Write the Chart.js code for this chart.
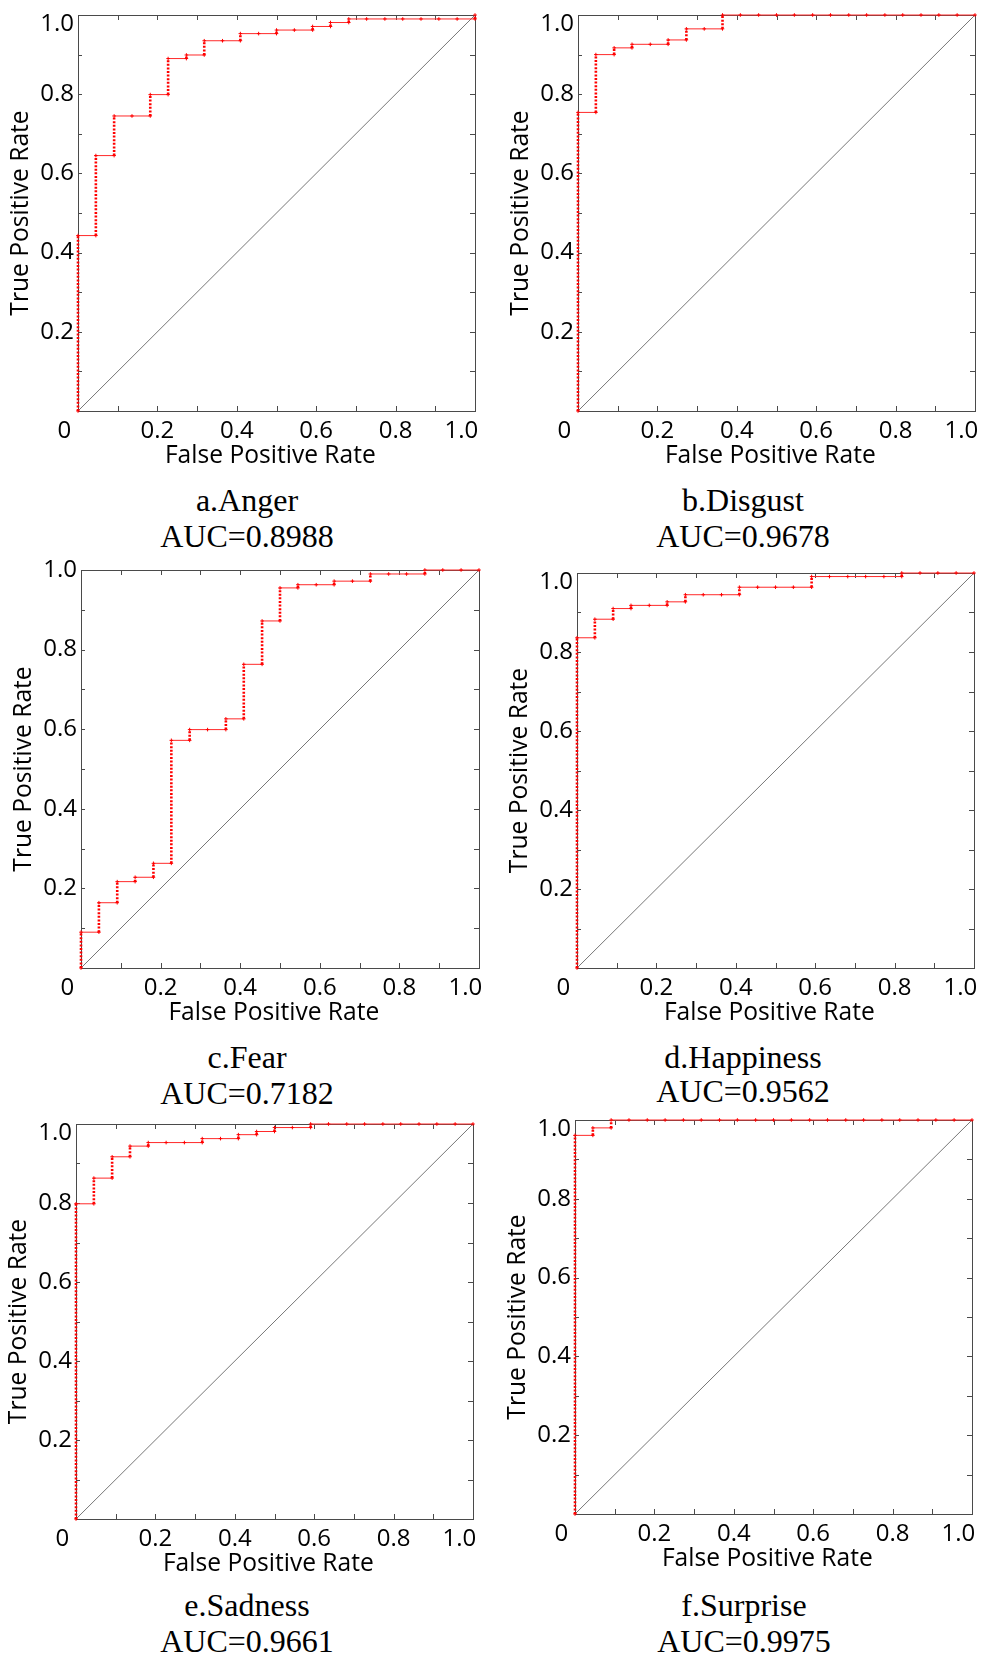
<!DOCTYPE html>
<html>
<head>
<meta charset="utf-8">
<script src="https://cdn.jsdelivr.net/npm/chart.js@4.4.1/dist/chart.umd.min.js"></script>
<style>
html,body{margin:0;padding:0;background:#fff;width:986px;height:1662px;overflow:hidden;}
#wrap{position:relative;width:986px;height:1662px;background:#fff;}
canvas{position:absolute;}
.cap{position:absolute;width:340px;text-align:center;font-family:"Liberation Serif","Times New Roman",serif;font-size:32px;line-height:36px;color:#000;white-space:nowrap;}
</style>
</head>
<body>
<div id="wrap"></div>
<script>
// ---------- data ----------
// False positive rate grid (22 negatives -> steps of ~0.045)
const fprGrid = [0, 0.045, 0.091, 0.136, 0.182, 0.227, 0.273, 0.318, 0.364, 0.409, 0.455, 0.5,
                 0.545, 0.591, 0.636, 0.682, 0.727, 0.773, 0.818, 0.864, 0.909, 0.955, 1.0];

// True positive rate reached at each FPR value above
const angerTpr     = [0.443, 0.645, 0.745, 0.745, 0.799, 0.890, 0.899, 0.935, 0.935, 0.953, 0.953, 0.962,
                      0.962, 0.971, 0.981, 0.990, 0.990, 0.990, 0.990, 0.990, 0.990, 0.990, 1.0];
const disgustTpr   = [0.754, 0.900, 0.917, 0.926, 0.926, 0.937, 0.965, 0.965, 1.0, 1.0, 1.0, 1.0,
                      1.0, 1.0, 1.0, 1.0, 1.0, 1.0, 1.0, 1.0, 1.0, 1.0, 1.0];
const fearTpr      = [0.090, 0.164, 0.217, 0.228, 0.263, 0.572, 0.599, 0.599, 0.626, 0.763, 0.872, 0.955,
                      0.963, 0.963, 0.972, 0.972, 0.990, 0.990, 0.990, 1.0, 1.0, 1.0, 1.0];
const happinessTpr = [0.836, 0.883, 0.910, 0.918, 0.918, 0.927, 0.945, 0.945, 0.945, 0.964, 0.964, 0.964,
                      0.964, 0.991, 0.991, 0.991, 0.991, 0.991, 1.0, 1.0, 1.0, 1.0, 1.0];
const sadnessTpr   = [0.798, 0.863, 0.917, 0.944, 0.953, 0.953, 0.953, 0.963, 0.963, 0.973, 0.981, 0.991,
                      0.991, 1.0, 1.0, 1.0, 1.0, 1.0, 1.0, 1.0, 1.0, 1.0, 1.0];
const surpriseTpr  = [0.961, 0.980, 1.0, 1.0, 1.0, 1.0, 1.0, 1.0, 1.0, 1.0, 1.0, 1.0,
                      1.0, 1.0, 1.0, 1.0, 1.0, 1.0, 1.0, 1.0, 1.0, 1.0, 1.0];

const chanceX = [0, 1];
const chanceY = [0, 1];

const panelNames = ["a.Anger", "b.Disgust", "c.Fear", "d.Happiness", "e.Sadness", "f.Surprise"];
const aucLabels  = ["AUC=0.8988", "AUC=0.9678", "AUC=0.7182", "AUC=0.9562", "AUC=0.9661", "AUC=0.9975"];
const xTickLabels = ["0", "0.2", "0.4", "0.6", "0.8", "1.0"];
const yTickLabels = ["", "0.2", "0.4", "0.6", "0.8", "1.0"];
const xAxisTitle = "False Positive Rate";
const yAxisTitle = "True Positive Rate";

const tprSeries = [angerTpr, disgustTpr, fearTpr, happinessTpr, sadnessTpr, surpriseTpr];

// ---------- layout (page pixels of each plot frame and captions) ----------
const frames = [
  {L: 78,  T: 13,   R: 475, B: 411,  cx: 247, c1: 500,  c2: 536,  lift: true},
  {L: 578, T: 13,   R: 975, B: 411,  cx: 743, c1: 500,  c2: 536,  lift: true},
  {L: 81,  T: 570,  R: 479, B: 968,  cx: 247, c1: 1057, c2: 1093, lift: false},
  {L: 577, T: 571,  R: 974, B: 968,  cx: 743, c1: 1057, c2: 1091, lift: true},
  {L: 76,  T: 1122, R: 473, B: 1519, cx: 247, c1: 1605, c2: 1641, lift: true},
  {L: 575, T: 1118, R: 972, B: 1514, cx: 744, c1: 1605, c2: 1641, lift: true}
];

const SANS = '"Open Sans", "DejaVu Sans", sans-serif';
Chart.defaults.font.family = SANS;
Chart.defaults.color = '#000';

// frame + inward tick marks, positioned through the scales
const framePlugin = {
  id: 'rocFrame',
  beforeDatasetsDraw(chart) {
    const {ctx, chartArea: a, scales: {x, y}} = chart;
    ctx.save();
    ctx.lineWidth = 1;
    ctx.strokeStyle = '#4a4a4a';
    ctx.strokeRect(a.left + 0.5, a.top + 0.5, a.right - a.left, a.bottom - a.top);
    ctx.beginPath();
    for (let i = 1; i < 10; i++) {
      const px = Math.round(x.getPixelForValue(i / 10)) + 0.5;
      const py = Math.round(y.getPixelForValue(i / 10)) + 0.5;
      ctx.moveTo(px, a.bottom); ctx.lineTo(px, a.bottom - 5);
      ctx.moveTo(px, a.top); ctx.lineTo(px, a.top + 5);
      ctx.moveTo(a.right, py); ctx.lineTo(a.right - 5, py);
      ctx.moveTo(a.left, py); ctx.lineTo(a.left + 4, py);
    }
    ctx.stroke();
    ctx.restore();
  }
};

function buildSteps(tpr) {
  const pts = [{x: fprGrid[0], y: 0}];
  for (let k = 0; k < fprGrid.length; k++) {
    const prev = k === 0 ? 0 : tpr[k - 1];
    if (k > 0) pts.push({x: fprGrid[k], y: prev});
    if (tpr[k] !== prev || k === 0) pts.push({x: fprGrid[k], y: tpr[k]});
  }
  return pts;
}

const wrap = document.getElementById('wrap');
const PADL = 78, PADT = 20, PADR = 40, XH = 60;

tprSeries.forEach((tpr, i) => {
  const f = frames[i];
  const w = (f.R - f.L) + PADL + PADR;
  const h = (f.B - f.T) + PADT + XH;
  const cv = document.createElement('canvas');
  cv.width = w; cv.height = h;
  cv.style.left = (f.L - PADL) + 'px';
  cv.style.top = (f.T - PADT) + 'px';
  cv.style.width = w + 'px';
  cv.style.height = h + 'px';
  wrap.appendChild(cv);

  const isVert = ctx => ctx.p0.parsed.x === ctx.p1.parsed.x;

  new Chart(cv, {
    type: 'scatter',
    data: {
      datasets: [
        {
          data: buildSteps(tpr),
          showLine: true,
          borderColor: '#ff2a2a',
          borderWidth: 1,
          pointStyle: 'cross',
          pointRadius: 1.8,
          pointBorderWidth: 1,
          pointBorderColor: '#ff0000',
          pointBackgroundColor: '#ff0000',
          clip: 8,
          segment: {
            borderWidth: ctx => isVert(ctx) ? 2.6 : undefined,
            borderDash: ctx => isVert(ctx) ? [2, 1.6] : undefined,
            borderColor: ctx => isVert(ctx) ? '#ff0000' : undefined
          }
        },
        {
          data: chanceX.map((v, j) => ({x: v, y: chanceY[j]})),
          showLine: true,
          borderColor: '#3c3c3c',
          borderWidth: 0.7,
          pointRadius: 0,
          clip: 2
        }
      ]
    },
    options: {
      responsive: false,
      devicePixelRatio: 1,
      animation: false,
      events: [],
      layout: {padding: {left: 0, top: PADT, right: PADR, bottom: 0}},
      plugins: {legend: {display: false}, tooltip: {enabled: false}, title: {display: false}},
      scales: {
        x: {
          type: 'linear', min: 0, max: 1,
          grid: {display: false, drawTicks: false},
          border: {display: false},
          ticks: {
            stepSize: 0.2, padding: 6, autoSkip: false, maxRotation: 0, color: '#000',
            font: {family: SANS, size: 24, lineHeight: 1.2},
            callback: (v, idx, arr) => {
              const s = xTickLabels[idx];
              return (idx === 0 || idx === arr.length - 1) ? s + '\u2007\u2007' : s;
            }
          },
          title: {display: true, text: xAxisTitle + '\u2002', color: '#000',
                  font: {family: SANS, size: 24.6, lineHeight: 1.2}, padding: {top: 0, bottom: 0}},
          afterFit: s => { s.height = XH; }
        },
        y: {
          type: 'linear', min: 0, max: 1,
          grid: {display: false, drawTicks: false},
          border: {display: false},
          ticks: {
            stepSize: 0.2, padding: 4, autoSkip: false, color: '#000',
            font: {family: SANS, size: 24, lineHeight: 0.75},
            callback: (v, idx, arr) => {
              const s = yTickLabels[idx];
              return (idx === arr.length - 1 && f.lift) ? ['', s] : s;
            }
          },
          title: {display: true, text: yAxisTitle, color: '#000',
                  font: {family: SANS, size: 24.6, lineHeight: 1.2}, padding: {top: 6, bottom: 0}},
          afterFit: s => { s.width = PADL; }
        }
      }
    },
    plugins: [framePlugin]
  });

  const d1 = document.createElement('div');
  d1.className = 'cap';
  d1.textContent = panelNames[i];
  d1.style.left = (f.cx - 170) + 'px';
  d1.style.top = (f.c1 - 18) + 'px';
  wrap.appendChild(d1);
  const d2 = document.createElement('div');
  d2.className = 'cap';
  d2.textContent = aucLabels[i];
  d2.style.left = (f.cx - 170) + 'px';
  d2.style.top = (f.c2 - 18) + 'px';
  wrap.appendChild(d2);
});
</script>
</body>
</html>
